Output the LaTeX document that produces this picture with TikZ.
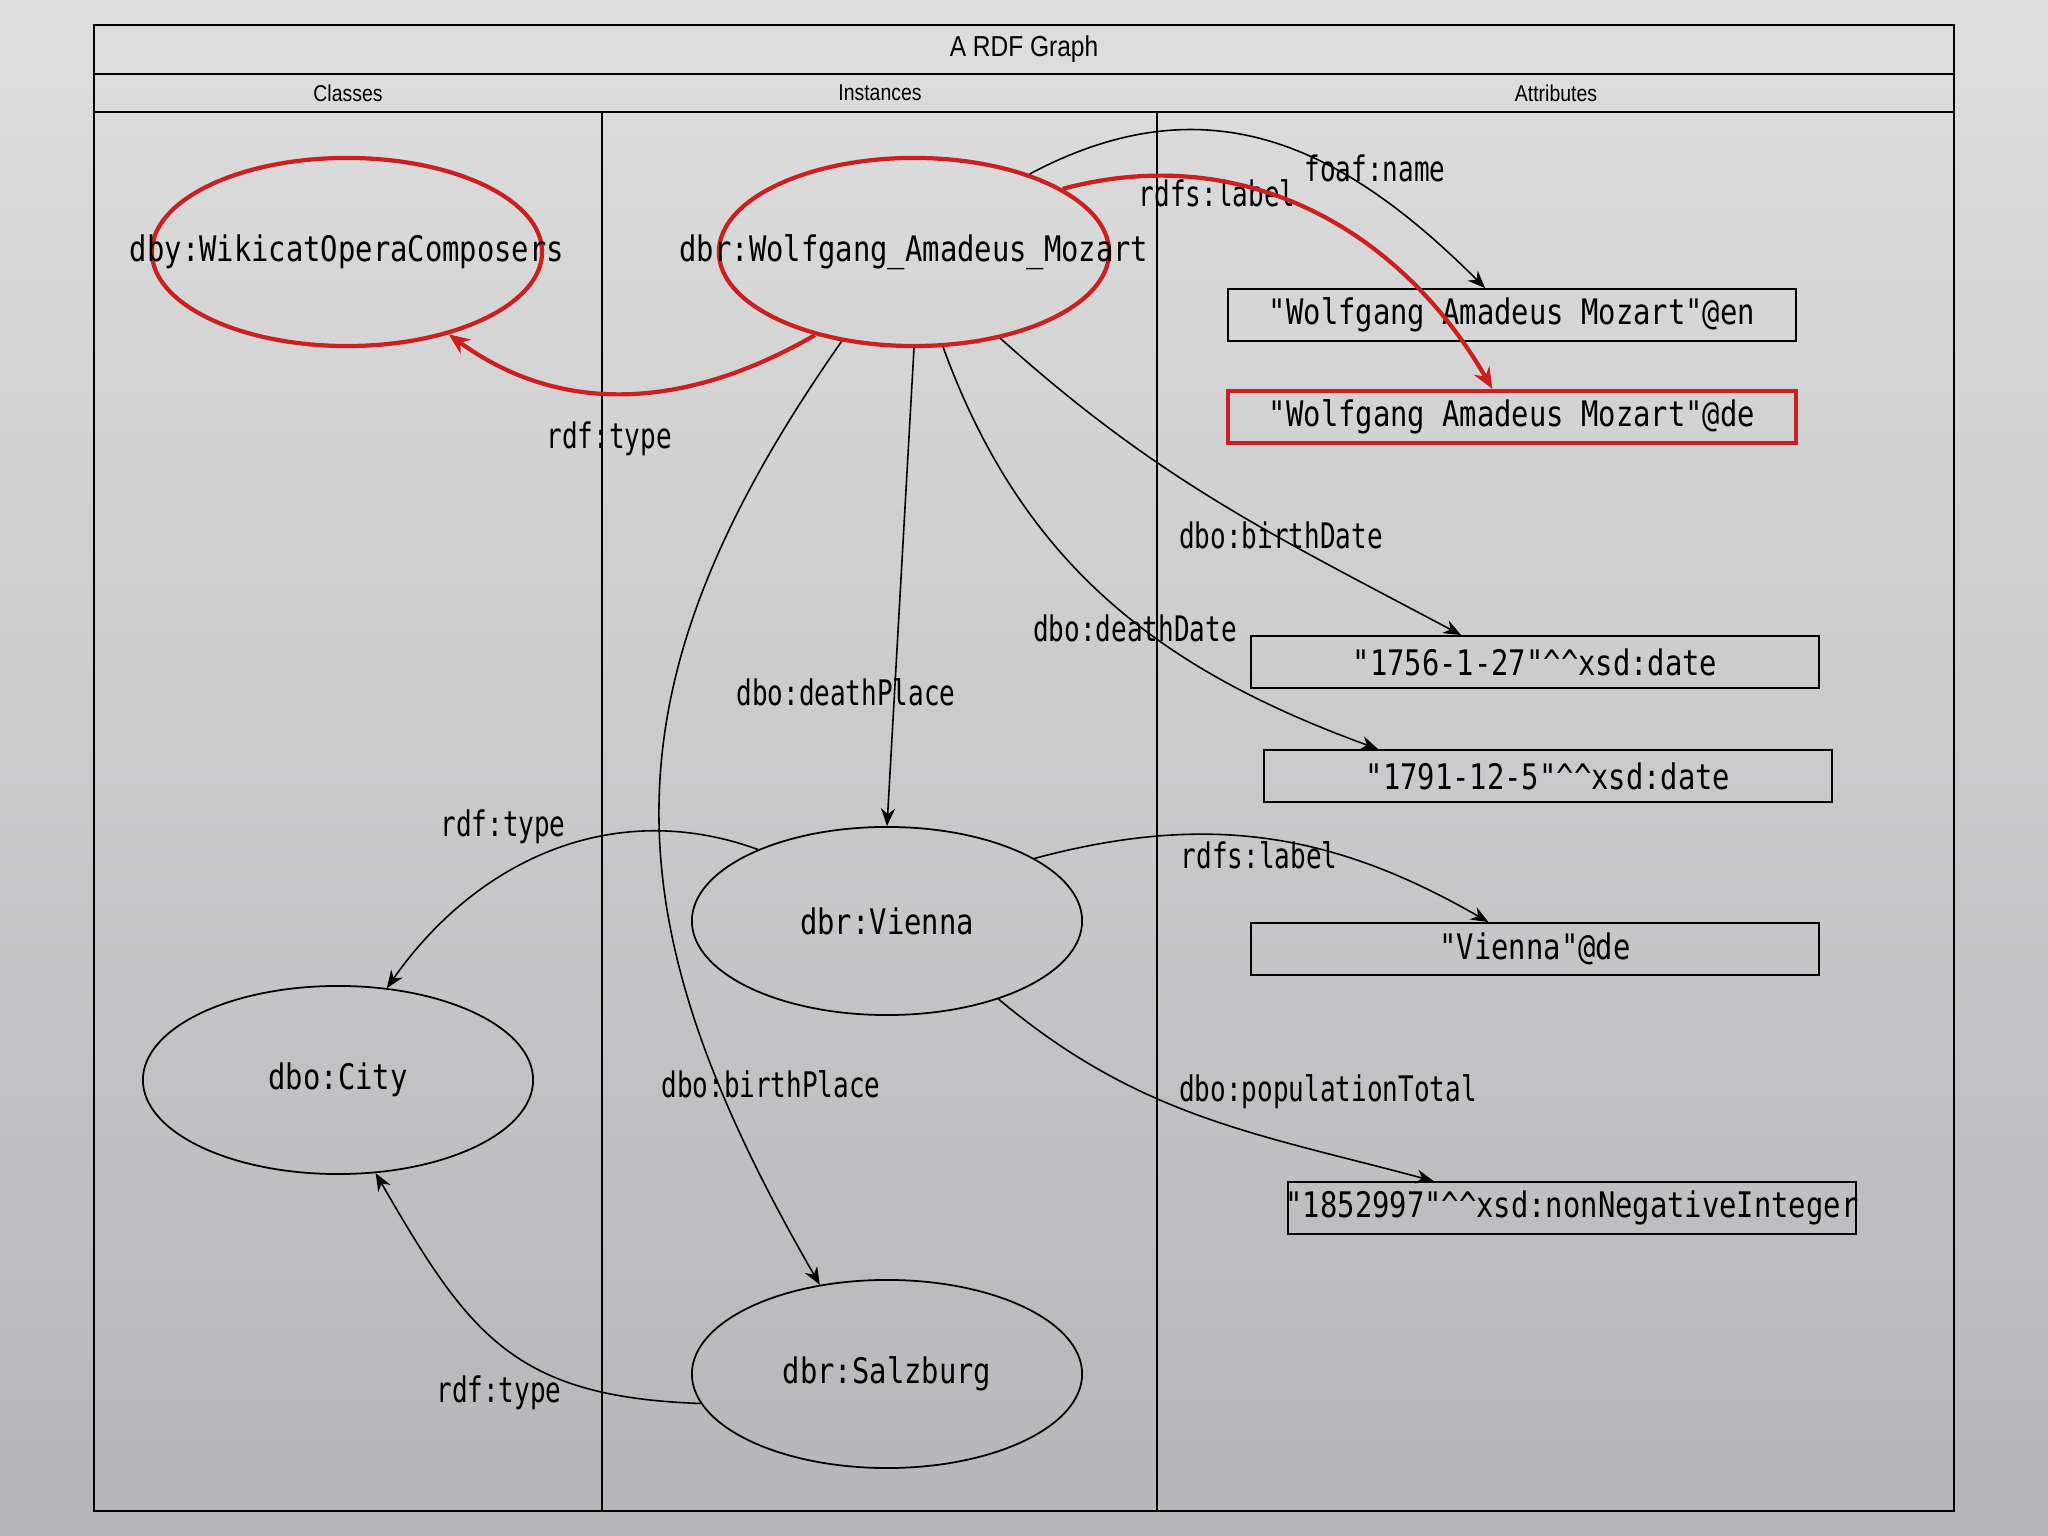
\documentclass[tikz,border=0pt]{standalone}
\usepackage{fontspec}
\usepackage{tikz}
\usetikzlibrary{arrows.meta, shapes.geometric}
\newfontfamily\rdffont[FakeStretch=0.82]{DejaVu Sans Mono}
\newfontfamily\propfont[FakeStretch=0.74]{DejaVu Sans Mono}
\newfontfamily\headfont[FakeStretch=0.85]{Liberation Sans}
\definecolor{bgtop}{HTML}{DEDEDE}
\definecolor{bgbottom}{HTML}{B6B5B8}
\definecolor{hlred}{HTML}{CC2020}
\newcommand{\rdftext}{\rdffont\fontsize{10}{12}\selectfont}
\newcommand{\proptext}{\propfont\fontsize{10}{12}\selectfont}
\newcommand{\wide}[1]{\makebox[0pt]{#1}}
\newcommand{\dtype}{\textasciicircum\textasciicircum}

\begin{document}
\begin{tikzpicture}[
        x=0.01cm, y=0.01cm,
        frame/.style={line width=0.7pt},
        heading/.style={font=\headfont\fontsize{6.5}{8}\selectfont, inner sep=0pt},
        resource/.style={
            ellipse,
            draw,
            line width=0.5pt,
            minimum width=3.9cm,
            minimum height=1.88cm,
            inner sep=0pt,
            font=\rdftext
        },
        literal/.style={
            draw,
            line width=0.5pt,
            minimum width=5.68cm,
            minimum height=0.52cm,
            inner sep=0pt,
            font=\rdftext
        },
        marked/.style={draw=hlred, line width=1.2pt},
        prop/.style={font=\proptext, inner sep=0pt},
        arrow/.style={-{Stealth[length=5pt, width=4pt]}, line width=0.45pt},
        redarrow/.style={-{Stealth[length=6pt, width=5pt]}, line width=1.2pt, draw=hlred}
    ]
        \shade[top color=bgtop, bottom color=bgbottom] (0,0) rectangle (2048,1536);
        \draw[frame] (94,25) rectangle (1954,1511);
        \draw[frame] (94,1462) -- (1954,1462);
        \draw[frame] (94,1424) -- (1954,1424);
        \draw[frame] (602,1424) -- (602,25);
        \draw[frame] (1157,1424) -- (1157,25);

        \node[heading, font=\headfont\fontsize{8.2}{10}\selectfont] (title) at (1024,1487) {A RDF Graph};
        \node[heading] (classes) at (348,1443) {Classes};
        \node[heading] (instances) at (880,1443) {Instances};
        \node[heading] (attributes) at (1556,1443) {Attributes};

        \node[resource, marked] (wikicat) at (347,1284) {\wide{dby:WikicatOperaComposers}};
        \node[resource, marked] (mozart) at (914,1284) {\wide{dbr:Wolfgang\_Amadeus\_Mozart}};
        \node[resource] (vienna) at (887,615) {\wide{dbr:Vienna}};
        \node[resource] (city) at (338,456) {\wide{dbo:City}};
        \node[resource] (salzburg) at (887,162) {\wide{dbr:Salzburg}};

        \node[literal] (nameen) at (1512,1221) {\wide{"Wolfgang Amadeus Mozart"@en}};
        \node[literal, marked] (namede) at (1512,1119) {\wide{"Wolfgang Amadeus Mozart"@de}};
        \node[literal] (birthdate) at (1535,874) {\wide{"1756-1-27"\dtype xsd:date}};
        \node[literal] (deathdate) at (1548,760) {\wide{"1791-12-5"\dtype xsd:date}};
        \node[literal] (viennade) at (1535,587) {\wide{"Vienna"@de}};
        \node[literal] (population) at (1572,328) {\wide{"1852997"\dtype xsd:nonNegativeInteger}};

        \node[prop] (typemozart) at (609,1097) {rdf:type};
        \node[prop] (namemozart) at (1375,1368) {foaf:name};
        \node[prop] (labelmozart) at (1217,1343) {rdfs:label};
        \node[prop] (birthdatemozart) at (1281,1001) {dbo:birthDate};
        \node[prop] (deathdatemozart) at (1135,908) {dbo:deathDate};
        \node[prop] (deathplacemozart) at (846,844) {dbo:deathPlace};
        \node[prop] (birthplacemozart) at (771,452) {dbo:birthPlace};
        \node[prop] (typevienna) at (503,709) {rdf:type};
        \node[prop] (labelvienna) at (1259,681) {rdfs:label};
        \node[prop] (populationvienna) at (1328,444) {dbo:populationTotal};
        \node[prop] (typesalzburg) at (499,143) {rdf:type};

        \draw[redarrow] (mozart.-140) to[out=-150, in=-36] (wikicat.-39);
        \draw[arrow] (mozart.34) to[out=28, in=135, looseness=1.1] (nameen.135);
        \draw[redarrow] (mozart.23) to[out=15, in=120] (namede.125);
        \draw[arrow] (mozart.-45) to[out=-42, in=152] (birthdate.160);
        \draw[arrow] (mozart.-73) to[out=-70, in=160] (deathdate.171);
        \draw[arrow] (mozart.south) -- (vienna.north);
        \draw[arrow] (mozart.-129) to[out=-125, in=120, looseness=1.15] (salzburg.127);
        \draw[arrow] (vienna.151) to[out=160, in=55] (city.62);
        \draw[arrow] (vienna.23) to[out=15, in=150] (viennade.150);
        \draw[arrow] (vienna.-35) to[out=-40, in=165] (population.169);
        \draw[arrow] (salzburg.189) to[out=178, in=-60, looseness=1.2] (city.-68);
    \end{tikzpicture}
\end{document}
